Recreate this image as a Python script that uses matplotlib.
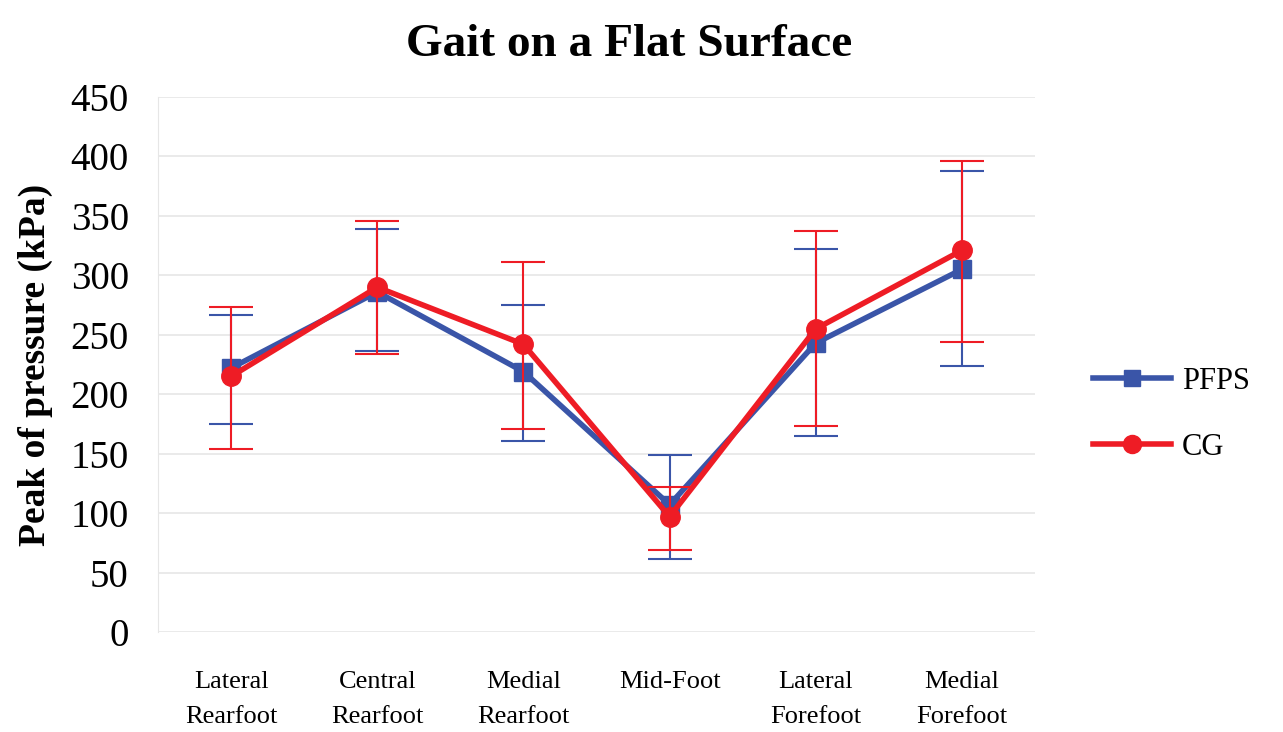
import numpy as np
import matplotlib.pyplot as plt
from matplotlib.lines import Line2D

categories = ['Lateral\nRearfoot', 'Central\nRearfoot', 'Medial\nRearfoot',
              'Mid-Foot', 'Lateral\nForefoot', 'Medial\nForefoot']

pfps_mean = [222, 286, 219, 107, 243, 305]
pfps_low = [175, 236, 161, 61, 165, 224]
pfps_high = [267, 339, 275, 149, 322, 388]

cg_mean = [215, 290, 242, 97, 255, 321]
cg_low = [154, 234, 171, 69, 173, 244]
cg_high = [273, 346, 311, 122, 337, 396]

plt.rcParams['font.family'] = ['Liberation Serif', 'DejaVu Serif']

fig = plt.figure(figsize=(12.83, 7.32), dpi=100)
ax = fig.add_axes([158 / 1283, 100 / 732, 877 / 1283, 535 / 732])

x = np.arange(len(categories))
blue = '#3a55a8'
red = '#ee1c25'

pfps_err = [np.array(pfps_mean) - np.array(pfps_low), np.array(pfps_high) - np.array(pfps_mean)]
cg_err = [np.array(cg_mean) - np.array(cg_low), np.array(cg_high) - np.array(cg_mean)]

ax.errorbar(x, pfps_mean, yerr=pfps_err, color=blue, marker='s', markersize=13,
            linewidth=4, elinewidth=1.5, capsize=16, capthick=1.5, zorder=3)
ax.errorbar(x, cg_mean, yerr=cg_err, color=red, marker='o', markersize=14,
            linewidth=4, elinewidth=1.5, capsize=16, capthick=1.5, zorder=4)

ax.set_xlim(-0.5, 5.5)
ax.set_ylim(0, 450)
ax.set_yticks(np.arange(0, 451, 50))
ax.set_xticks(x)
ax.set_xticklabels(categories, fontsize=19, linespacing=1.75)
ax.tick_params(axis='y', labelsize=28, length=0, pad=21)
ax.tick_params(axis='x', length=0, pad=28)
ax.grid(axis='y', color='#e6e6e6', linewidth=1.2)
ax.set_axisbelow(True)
for s in ['top', 'right', 'bottom']:
    ax.spines[s].set_visible(False)
ax.spines['left'].set_color('#e6e6e6')

ax.set_ylabel('Peak of pressure (kPa)', fontsize=27, fontweight='bold', labelpad=13)
fig.text(0.49, 0.938, 'Gait on a Flat Surface', ha='center', va='center',
         fontsize=34, fontweight='bold')

handles = [Line2D([], [], color=blue, marker='s', markersize=12, linewidth=4),
           Line2D([], [], color=red, marker='o', markersize=13, linewidth=4)]
fig.legend(handles, ['PFPS', 'CG'], loc='center left', bbox_to_anchor=(1093 / 1283, 0.434),
           frameon=False, fontsize=22, handlelength=2.55, handletextpad=0.35,
           labelspacing=1.2, borderpad=0, borderaxespad=0)

plt.savefig('out.png', dpi=100)
